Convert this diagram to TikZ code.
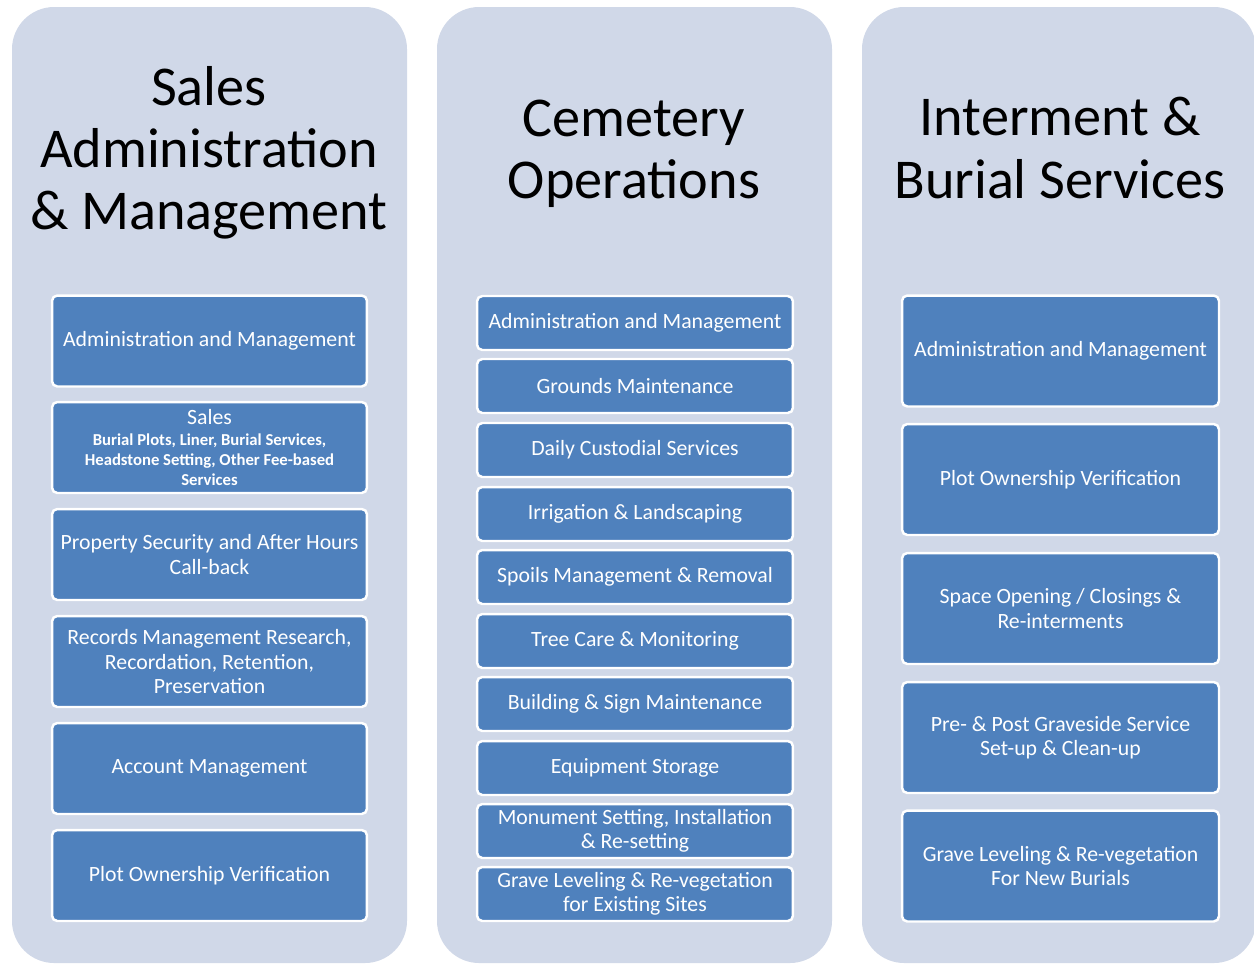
\documentclass[tikz,border=0pt]{standalone}
\usepackage{fontspec}
\setmainfont{Carlito}
\frenchspacing
\definecolor{panelbg}{HTML}{D0D8E8}
\definecolor{boxblue}{HTML}{4F81BD}
\newcommand{\subtxt}{\bfseries\fontsize{9.5}{11}\selectfont}
\begin{document}
\begin{tikzpicture}[x=0.02cm,y=-0.02cm,
  panel/.style={fill=panelbg, draw=none, rounded corners=24pt},
  head/.style={align=center, text=black, font=\fontsize{32}{35.3}\selectfont, inner sep=0pt},
  box/.style={fill=boxblue, draw=white, line width=1.4pt, rounded corners=3pt,
    text=white, align=center, inner sep=2pt, font=\fontsize{12.4}{13.9}\selectfont},
  boxA/.style={box, minimum width=6.3cm, minimum height=1.82cm},
  boxB/.style={box, minimum width=6.32cm, minimum height=1.08cm},
  boxC/.style={box, minimum width=6.34cm, minimum height=2.22cm},
  ]
\useasboundingbox (0,0) rectangle (1254,965);
\fill[white] (0,0) rectangle (1254,965);
% panels
\path[panel] (12,7) rectangle (407,963);
\path[panel] (437,7) rectangle (832,963);
\path[panel] (862,7) rectangle (1256,963);
% headers
\node[head] (h1) at (209,152.5) {Sales\\Administration\\\& Management};
\node[head] (h2) at (634,154) {Cemetery\\Operations};
\node[head] (h3) at (1060,148) {Interment \&\\Burial Services};
% column 1
\node[boxA] (a1) at (209.5,341) {Administration and Management};
\node[boxA] (a2) at (209.5,447.5) {Sales\\[-1.8pt]\subtxt Burial Plots, Liner, Burial Services,\\[-2.7pt]\subtxt Headstone Setting, Other Fee-based\\[-2.7pt]\subtxt Services};
\node[boxA] (a3) at (209.5,554.5) {Property Security and After Hours\\Call-back};
\node[boxA] (a4) at (209.5,661.5) {Records Management Research,\\Recordation, Retention,\\Preservation};
\node[boxA] (a5) at (209.5,768.5) {Account Management};
\node[boxA] (a6) at (209.5,875.5) {Plot Ownership Verification};
% column 2
\node[boxB] (b1) at (635,323) {Administration and Management};
\node[boxB] (b2) at (635,386) {Grounds Maintenance};
\node[boxB] (b3) at (635,450) {Daily Custodial Services};
\node[boxB] (b4) at (635,514) {Irrigation \& Landscaping};
\node[boxB] (b5) at (635,577) {Spoils Management \& Removal};
\node[boxB] (b6) at (635,641) {Tree Care \& Monitoring};
\node[boxB] (b7) at (635,704) {Building \& Sign Maintenance};
\node[boxB] (b8) at (635,768) {Equipment Storage};
\node[boxB] (b9) at (635,831) {Monument Setting, Installation\\\& Re-setting};
\node[boxB] (b10) at (635,894) {Grave Leveling \& Re-vegetation\\for Existing Sites};
% column 3
\node[boxC] (c1) at (1060.5,351) {Administration and Management};
\node[boxC] (c2) at (1060.5,479.5) {Plot Ownership Verification};
\node[boxC] (c3) at (1060.5,608.5) {Space Opening / Closings \&\\Re-interments};
\node[boxC] (c4) at (1060.5,737.5) {Pre- \& Post Graveside Service\\Set-up \& Clean-up};
\node[boxC] (c5) at (1060.5,866) {Grave Leveling \& Re-vegetation\\For New Burials};
\end{tikzpicture}
\end{document}
